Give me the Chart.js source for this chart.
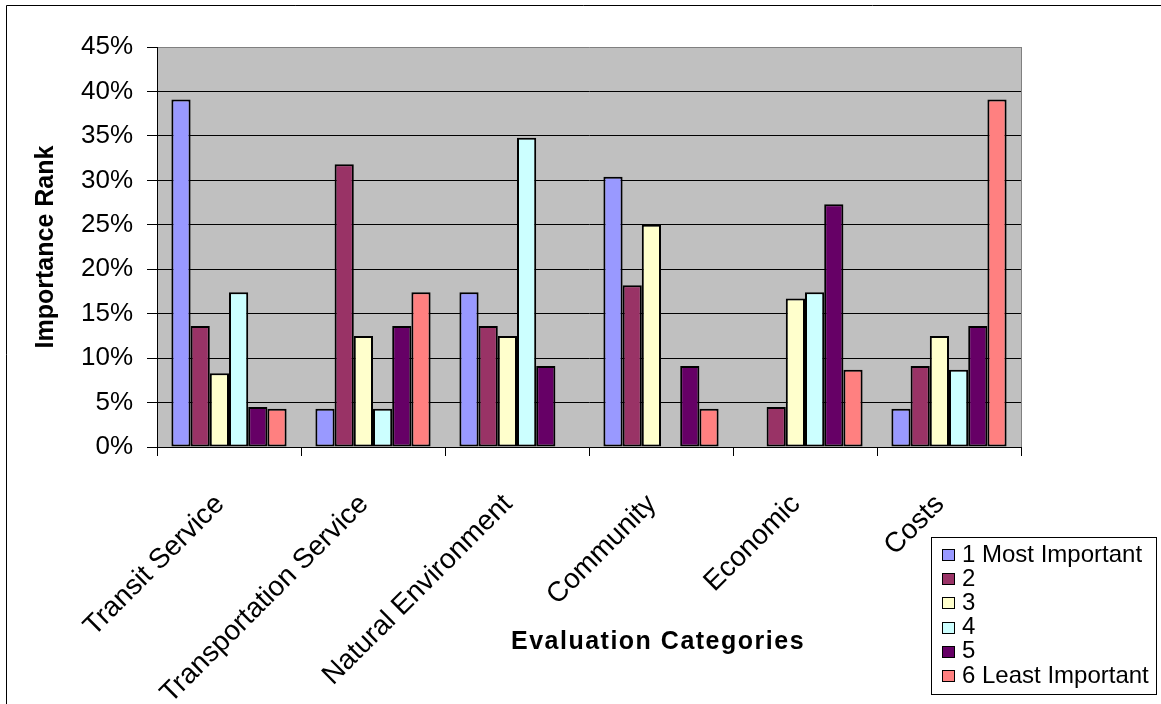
<!DOCTYPE html>
<html>
<head>
<meta charset="utf-8">
<title>Importance Rank by Evaluation Category</title>
<script src="https://cdn.jsdelivr.net/npm/chart.js@4/dist/chart.umd.min.js"></script>
<style>
  html, body { margin: 0; padding: 0; background: #fff; }
  #wrap { position: relative; width: 1161px; height: 704px; }
  canvas { display: block; }
</style>
</head>
<body>
<div id="wrap"><canvas id="chart" width="1161" height="704"></canvas></div>
<script>
// Evaluation categories on the x axis
const categories = ['Transit Service', 'Transportation Service', 'Natural Environment', 'Community', 'Economic', 'Costs'];

// Rank labels (one series per rank)
const rankLabels = ['1 Most Important', '2', '3', '4', '5', '6 Least Important'];

// Share of respondents giving each rank, in percent
const rank1 = [39.1, 4.3, 17.4, 30.4, 0, 4.3];
const rank2 = [13.6, 31.8, 13.6, 18.2, 4.5, 9.1];
const rank3 = [8.3, 12.5, 12.5, 25.0, 16.7, 12.5];
const rank4 = [17.4, 4.3, 34.8, 0, 17.4, 8.7];
const rank5 = [4.5, 13.6, 9.1, 9.1, 27.3, 13.6];
const rank6 = [4.3, 17.4, 0, 4.3, 8.7, 39.1];

// Value axis ticks
const yTickValues = [0, 5, 10, 15, 20, 25, 30, 35, 40, 45];

const rankColors = ['#9999FF', '#993366', '#FFFFCC', '#CCFFFF', '#660066', '#FF8080'];
const FONT = "'Liberation Sans', Arial, sans-serif";

const seriesValues = [rank1, rank2, rank3, rank4, rank5, rank6];
const datasets = seriesValues.map((vals, i) => ({
  label: rankLabels[i],
  data: vals,
  backgroundColor: rankColors[i],
  borderColor: '#000000',
  borderWidth: 2,
  borderSkipped: false,
  barPercentage: 1.0,
  categoryPercentage: 0.8
}));

// Page frame, plot background and plot border
const framePlugin = {
  id: 'frame',
  beforeDraw(chart) {
    const {ctx, chartArea: a, width, height} = chart;
    ctx.save();
    ctx.fillStyle = '#ffffff';
    ctx.fillRect(0, 0, width, height);
    ctx.fillStyle = '#C0C0C0';
    ctx.fillRect(a.left, a.top, a.right - a.left, a.bottom - a.top);
    ctx.strokeStyle = '#000000';
    ctx.lineWidth = 1;
    ctx.beginPath();
    ctx.moveTo(6.5, height);
    ctx.lineTo(6.5, 5.5);
    ctx.lineTo(width, 5.5);
    ctx.stroke();
    ctx.restore();
  },
  beforeDatasetsDraw(chart) {
    const {ctx, chartArea: a} = chart;
    ctx.save();
    ctx.strokeStyle = '#808080';
    ctx.lineWidth = 1;
    ctx.beginPath();
    ctx.moveTo(Math.round(a.right) + 0.5, a.top);
    ctx.lineTo(Math.round(a.right) + 0.5, a.bottom);
    ctx.stroke();
    ctx.restore();
  }
};

// Category axis title, centred under the labels
const xTitlePlugin = {
  id: 'xTitle',
  afterDraw(chart) {
    const {ctx} = chart;
    ctx.save();
    ctx.font = 'bold 25px ' + FONT;
    ctx.letterSpacing = '1.5px';
    ctx.fillStyle = '#000000';
    ctx.textAlign = 'center';
    ctx.textBaseline = 'middle';
    ctx.fillText('Evaluation Categories', 658, 642);
    ctx.restore();
  }
};

// Boxed legend at the lower right
const boxLegendPlugin = {
  id: 'boxLegend',
  afterDraw(chart) {
    const {ctx} = chart;
    const box = {x: 931.5, y: 537.5, w: 225, h: 157};
    ctx.save();
    ctx.fillStyle = '#ffffff';
    ctx.fillRect(box.x, box.y, box.w, box.h);
    ctx.strokeStyle = '#000000';
    ctx.lineWidth = 1;
    ctx.strokeRect(box.x, box.y, box.w, box.h);
    ctx.font = '24px ' + FONT;
    ctx.textBaseline = 'middle';
    ctx.textAlign = 'left';
    chart.data.datasets.forEach((ds, i) => {
      const cy = 555 + i * 24.2;
      const mx = 942, my = Math.round(cy - 6);
      ctx.fillStyle = ds.backgroundColor;
      ctx.fillRect(mx, my, 13, 12);
      ctx.strokeStyle = '#000000';
      ctx.strokeRect(mx + 0.5, my + 0.5, 12, 11);
      ctx.fillStyle = '#000000';
      ctx.fillText(ds.label, 962, cy);
    });
    ctx.restore();
  }
};

new Chart(document.getElementById('chart'), {
  type: 'bar',
  data: { labels: categories, datasets: datasets },
  plugins: [framePlugin, xTitlePlugin, boxLegendPlugin],
  options: {
    responsive: false,
    animation: false,
    devicePixelRatio: 1,
    layout: { padding: { left: 0, top: 47, right: 140, bottom: 0 } },
    plugins: {
      legend: { display: false },
      tooltip: { enabled: false },
      title: { display: false }
    },
    scales: {
      x: {
        type: 'category',
        offset: true,
        afterFit(scale) { scale.height = 257; },
        grid: {
          offset: true,
          drawOnChartArea: false,
          drawTicks: true,
          tickLength: 9,
          tickColor: '#000000',
          color: '#000000'
        },
        border: { display: true, color: '#000000', width: 1 },
        ticks: {
          autoSkip: false,
          minRotation: 45,
          maxRotation: 45,
          padding: 32,
          labelOffset: -9,
          color: '#000000',
          font: { family: FONT, size: 28 }
        }
      },
      y: {
        min: 0,
        max: 45,
        afterFit(scale) { scale.width = 157; },
        afterBuildTicks(scale) { scale.ticks = yTickValues.map(v => ({ value: v })); },
        grid: {
          drawTicks: true,
          tickLength: 10,
          tickColor: '#000000',
          lineWidth: 1,
          color: (c) => (c.tick && c.tick.value === 45) ? '#808080' : '#000000'
        },
        border: { display: true, color: '#000000', width: 1 },
        ticks: {
          padding: 14,
          color: '#000000',
          font: { family: FONT, size: 26 },
          callback: (v) => v + '%'
        },
        title: {
          display: true,
          text: 'Importance Rank',
          color: '#000000',
          font: { family: FONT, size: 25, weight: 'bold' },
          padding: { top: 31, bottom: 0 }
        }
      }
    }
  }
});
</script>
</body>
</html>
